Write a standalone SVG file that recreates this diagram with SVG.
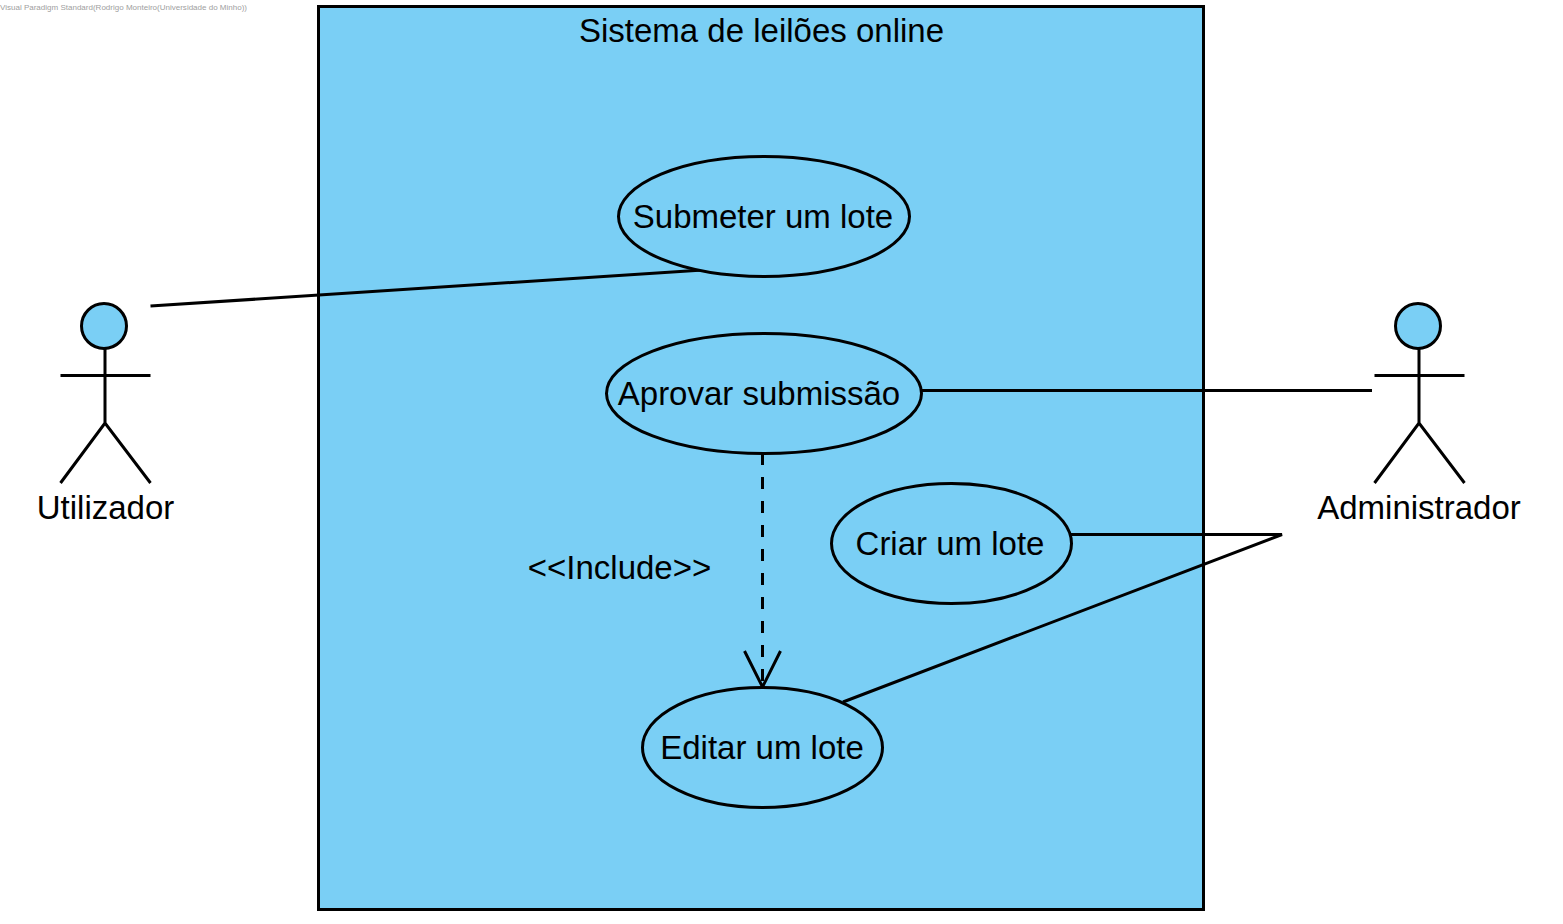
<svg xmlns="http://www.w3.org/2000/svg" width="1563" height="924" viewBox="0 0 1563 924">
<style>
text{font-family:"Liberation Sans",Arial,sans-serif;fill:#000;text-anchor:middle;font-size:33px}
.s{fill:#7acff5;stroke:#000;stroke-width:3}
.l{fill:none;stroke:#000;stroke-width:3}
</style>
<rect width="1563" height="924" fill="#fff"/>
<text x="0" y="10" style="font-size:8px;text-anchor:start;fill:#a0a0a0" textLength="247" lengthAdjust="spacingAndGlyphs">Visual Paradigm Standard(Rodrigo Monteiro(Universidade do Minho))</text>
<g id="system">
<rect class="s" x="318.500" y="6.500" width="885" height="903"/>
<text x="761.500" y="42">Sistema de leilões online</text>
</g>
<g id="connectors">
<path class="l" d="M150.500 306L703 270"/>
<path class="l" d="M921 390.500H1372"/>
<path class="l" d="M1071 534.500H1282L843 702"/>
<path class="l" d="M762.500 453V687" stroke-dasharray="12 12"/>
<path class="l" d="M744.500 651L762.500 687L780.500 651"/>
</g>
<g id="actor-utilizador">
<circle class="s" cx="104" cy="326" r="22.500"/>
<path class="l" d="M105 349V423M60.500 375.500H150.500M60.500 483L105 423L150.500 483"/>
<text x="105.500" y="519">Utilizador</text>
</g>
<g id="actor-administrador">
<circle class="s" cx="1418" cy="326" r="22.500"/>
<path class="l" d="M1419 349V423M1374.500 375.500H1464.500M1374.500 483L1419 423L1464.500 483"/>
<text x="1419" y="519">Administrador</text>
</g>
<g id="uc-submeter">
<ellipse class="s" cx="764" cy="216.500" rx="145.500" ry="60"/>
<text x="763" y="228">Submeter um lote</text>
</g>
<g id="uc-aprovar">
<ellipse class="s" cx="764" cy="393.500" rx="157.500" ry="60"/>
<text x="759" y="405">Aprovar submissão</text>
</g>
<g id="uc-criar">
<ellipse class="s" cx="951.500" cy="543.500" rx="120" ry="60"/>
<text x="950" y="555">Criar um lote</text>
</g>
<g id="uc-editar">
<ellipse class="s" cx="762.500" cy="747.500" rx="120" ry="60"/>
<text x="762" y="759">Editar um lote</text>
</g>
<text id="include-label" x="619.500" y="579">&lt;&lt;Include&gt;&gt;</text>
</svg>
